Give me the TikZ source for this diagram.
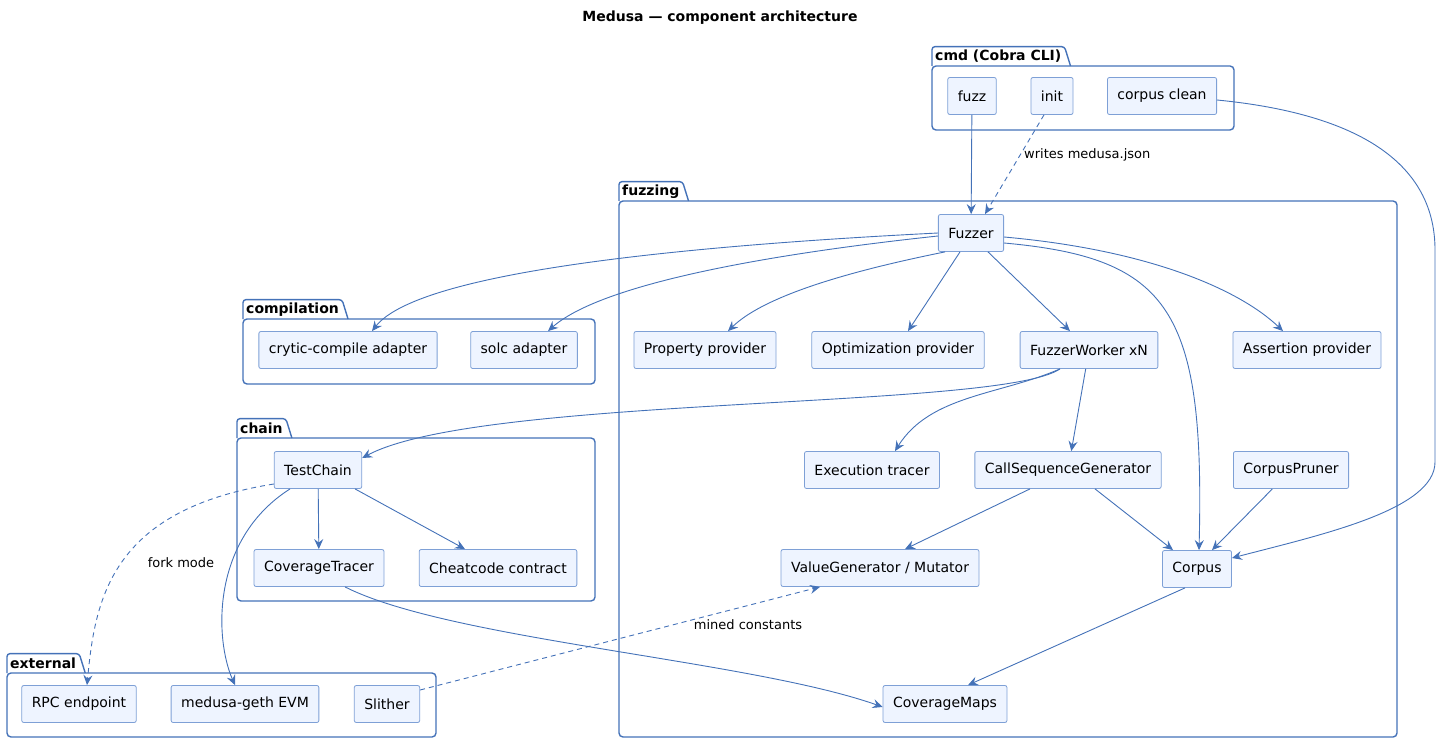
\documentclass[tikz,border=0pt]{standalone}
\usepackage{fontspec}
\setmainfont{DejaVu Sans}
\usepackage{tikz}
\usetikzlibrary{arrows.meta}
\definecolor{lineblue}{RGB}{68, 114, 184}
\definecolor{nodefill}{RGB}{238, 244, 255}
\definecolor{nodeedge}{RGB}{126, 160, 214}

\begin{document}
\begin{tikzpicture}[x=1pt, y=-1pt,
    comp/.style={rectangle, rounded corners=2pt, draw=nodeedge, fill=nodefill, line width=0.8pt,
                 minimum height=37pt, inner xsep=10pt, font=\fontsize{14}{16}\selectfont},
    pkgtab/.style={anchor=south west, inner xsep=3pt, inner ysep=0pt, minimum height=19pt,
                   font=\fontsize{14}{16}\selectfont\bfseries},
    pkgline/.style={draw=lineblue, line width=1.4pt, rounded corners=3pt},
    arrow/.style={-{Stealth[length=10pt, width=9pt, inset=3.5pt]}, color=lineblue, line width=0.9pt},
    dasharrow/.style={arrow, dash pattern=on 5pt off 4pt},
    label_font/.style={font=\fontsize{13}{15}\selectfont, color=black}
  ]
    \useasboundingbox (0,0) rectangle (1440,743);
    \node[font=\fontsize{14}{16}\selectfont\bfseries] (title) at (720,18) {Medusa — component architecture};

    % packages
    \node[pkgtab] (cmdtab) at (932,66) {cmd (Cobra CLI)};
    \draw[pkgline] (cmdtab.south west) -- (cmdtab.north west) -- (cmdtab.north east) -- ([xshift=6pt]cmdtab.south east);
    \draw[pkgline, rounded corners=4pt] (932,66) rectangle (1234,130);

    \node[pkgtab] (fuzzingtab) at (619,201) {fuzzing};
    \draw[pkgline] (fuzzingtab.south west) -- (fuzzingtab.north west) -- (fuzzingtab.north east) -- ([xshift=6pt]fuzzingtab.south east);
    \draw[pkgline, rounded corners=4pt] (619,201) rectangle (1397,737);

    \node[pkgtab] (compiletab) at (243,319) {compilation};
    \draw[pkgline] (compiletab.south west) -- (compiletab.north west) -- (compiletab.north east) -- ([xshift=6pt]compiletab.south east);
    \draw[pkgline, rounded corners=4pt] (243,319) rectangle (595,384);

    \node[pkgtab] (chaintab) at (237,438) {chain};
    \draw[pkgline] (chaintab.south west) -- (chaintab.north west) -- (chaintab.north east) -- ([xshift=6pt]chaintab.south east);
    \draw[pkgline, rounded corners=4pt] (237,438) rectangle (595,601);

    \node[pkgtab] (externaltab) at (7,673) {external};
    \draw[pkgline] (externaltab.south west) -- (externaltab.north west) -- (externaltab.north east) -- ([xshift=6pt]externaltab.south east);
    \draw[pkgline, rounded corners=4pt] (7,673) rectangle (436,737);

    % components
    \node[comp] (fuzz)     at (972,96)   {fuzz};
    \node[comp] (init)     at (1052,96)  {init};
    \node[comp] (cclean)   at (1162,96)  {corpus clean};

    \node[comp] (fuzzer)   at (971,233)  {Fuzzer};
    \node[comp] (property) at (705,350)  {Property provider};
    \node[comp] (optim)    at (898,350)  {Optimization provider};
    \node[comp] (worker)   at (1089,350) {FuzzerWorker xN};
    \node[comp] (assert)   at (1307,350) {Assertion provider};
    \node[comp] (exectracer) at (872,470) {Execution tracer};
    \node[comp] (callseq)  at (1068,470) {CallSequenceGenerator};
    \node[comp] (pruner)   at (1291,470) {CorpusPruner};
    \node[comp] (valuegen) at (880,568)  {ValueGenerator / Mutator};
    \node[comp] (corpus)   at (1197,569) {Corpus};
    \node[comp] (covmaps)  at (945,704)  {CoverageMaps};

    \node[comp] (crytic)   at (348,350)  {crytic-compile adapter};
    \node[comp] (solc)     at (524,350)  {solc adapter};

    \node[comp] (testchain) at (318,470) {TestChain};
    \node[comp] (covtracer) at (319,568) {CoverageTracer};
    \node[comp] (cheat)     at (498,568) {Cheatcode contract};

    \node[comp] (rpc)      at (79,704)   {RPC endpoint};
    \node[comp] (evm)      at (245,704)  {medusa-geth EVM};
    \node[comp] (slither)  at (387,704)  {Slither};

    % connectors
    \draw[arrow] (fuzz) -- (fuzzer);
    \draw[dasharrow] ([xshift=-8pt]init.south) -- node[pos=0.4, right, label_font]{writes medusa.json} ([xshift=14pt]fuzzer.north);
    \draw[arrow] ([yshift=-4pt]cclean.east) .. controls (1370,115) and (1435,170) .. (1435,250)
        -- (1435,462) .. controls (1435,510) and (1320,535) .. ([yshift=11pt]corpus.east);

    \draw[arrow] (fuzzer.west) .. controls (700,245) and (420,270) .. ([xshift=24pt]crytic.north);
    \draw[arrow] ([yshift=-3pt]fuzzer.west) .. controls (760,255) and (600,285) .. ([xshift=24pt]solc.north);
    \draw[arrow] ([xshift=-26pt]fuzzer.south) .. controls (830,275) and (760,300) .. ([xshift=23pt]property.north);
    \draw[arrow] ([xshift=-11pt]fuzzer.south) -- ([xshift=10pt]optim.north);
    \draw[arrow] ([xshift=17pt]fuzzer.south) -- ([xshift=-19pt]worker.north);
    \draw[arrow] ([yshift=-10pt]fuzzer.east) .. controls (1170,258) and (1205,310) .. ([xshift=2pt]corpus.north);
    \draw[arrow] ([yshift=-4pt]fuzzer.east) .. controls (1150,250) and (1240,290) .. ([xshift=-24pt]assert.north);

    \draw[arrow] ([xshift=-29pt]worker.south) .. controls (1000,410) and (480,395) .. ([yshift=12pt]testchain.east);
    \draw[arrow] ([xshift=-29pt]worker.south) .. controls (1000,395) and (930,395) .. ([xshift=23pt]exectracer.north);
    \draw[arrow] (worker) -- (callseq);
    \draw[arrow] ([xshift=-38pt]callseq.south) -- ([xshift=25pt]valuegen.north);
    \draw[arrow] ([xshift=27pt]callseq.south) -- ([xshift=-24pt]corpus.north);
    \draw[arrow] (pruner) -- ([xshift=15pt]corpus.north);
    \draw[arrow] ([xshift=-12pt]corpus.south) -- ([xshift=23pt]covmaps.north);

    \draw[arrow] (testchain) -- (covtracer);
    \draw[arrow] ([xshift=37pt]testchain.south) -- ([xshift=-33pt]cheat.north);
    \draw[arrow] ([xshift=-28pt]testchain.south) .. controls (210,540) and (215,640) .. ([xshift=-10pt]evm.north);
    \draw[dasharrow] ([yshift=-14pt]testchain.west) .. controls (110,510) and (95,600) .. node[pos=0.5, right=22pt, label_font]{fork mode} ([xshift=8pt]rpc.north);
    \draw[arrow] ([xshift=26pt]covtracer.south) .. controls (450,640) and (750,660) .. ([yshift=-3pt]covmaps.west);
    \draw[dasharrow] ([yshift=14pt]slither.east) -- node[pos=0.82, below=10pt, label_font]{mined constants} ([xshift=-60pt]valuegen.south);
  \end{tikzpicture}
\end{document}
